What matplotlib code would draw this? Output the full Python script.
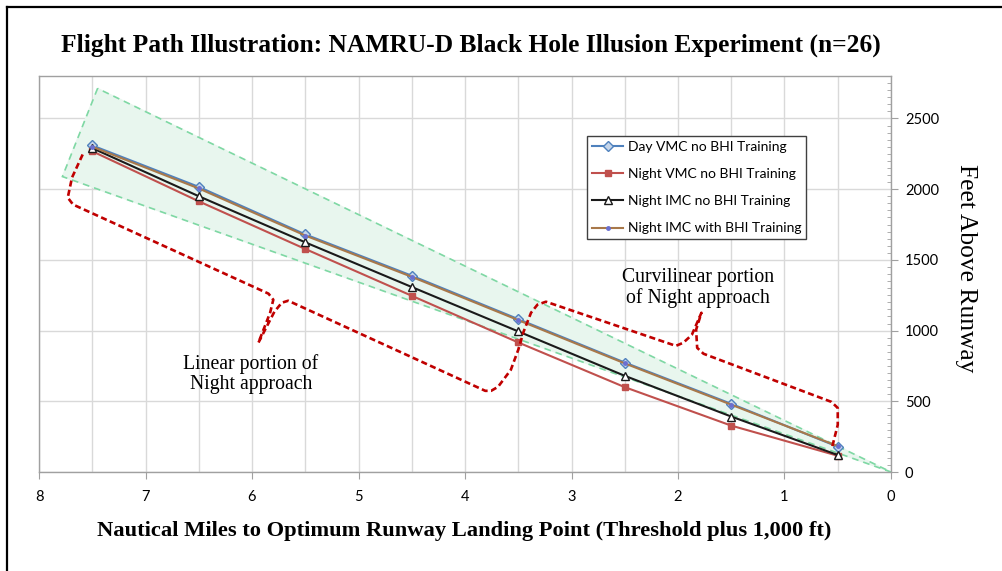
import matplotlib
matplotlib.use("Agg")
import matplotlib.pyplot as plt
from matplotlib.lines import Line2D
from matplotlib.ticker import MultipleLocator

# data (nautical miles, feet above runway)
nm = [7.5, 6.5, 5.5, 4.5, 3.5, 2.5, 1.5, 0.5]
day_vmc = [2309, 2016, 1680, 1388, 1081, 774, 482, 179]
night_vmc = [2268, 1914, 1577, 1246, 916, 600, 328, 115]
night_imc = [2290, 1950, 1624, 1308, 994, 680, 392, 120]
night_imc_bhi = [2300, 2005, 1672, 1380, 1074, 768, 476, 183]

x_ticks = [8, 7, 6, 5, 4, 3, 2, 1, 0]
y_ticks = [0, 500, 1000, 1500, 2000, 2500]

# green dashed band drawn on the chart
band_x = [7.45, 7.78, 0.0]
band_y = [2712, 2089, 0]

# red dashed brackets (one continuous path)
brace_x = [7.59, 7.69, 7.73, 7.68, 5.845, 5.80, 5.83, 5.94, 5.79, 5.72, 5.66,
           3.81, 3.755, 3.69, 3.57, 3.50, 3.45, 3.38, 3.32, 3.24,
           2.02, 1.95, 1.87, 1.78, 1.83, 1.82, 1.76, 0.56, 0.50, 0.50, 0.555]
brace_y = [2245, 2082, 1940, 1891, 1261, 1218, 1126, 914, 1133, 1197, 1211,
           574, 574, 602, 722, 864, 992, 1126, 1183, 1204,
           892, 914, 970, 1126, 1006, 878, 836, 496, 453, 333, 170]

serif = "Liberation Serif"
sans = "Lato"

fig = plt.figure(figsize=(10.03, 5.71), dpi=100)
ax = fig.add_axes([39/1003, 1-472/571, (891-39)/1003, (472-76)/571])

ax.fill(band_x, band_y, color="#E8F6EE", zorder=1)
ax.fill(band_x, band_y, facecolor="none", edgecolor="#7FD8A4", lw=1.2,
        linestyle=(0, (4, 3)), zorder=2)

ax.plot(nm, day_vmc, color="#4F81BD", lw=1.5, marker="D", ms=5.5,
        mfc="#C5D5EA", mec="#4F81BD", mew=1.0, label="Day VMC no BHI Training", zorder=4)
ax.plot(nm, night_vmc, color="#C0504D", lw=1.5, marker="s", ms=5,
        mfc="#C0504D", mec="#C0504D", label="Night VMC no BHI Training", zorder=4)
ax.plot(nm, night_imc, color="#1A1A1A", lw=1.5, marker="^", ms=6,
        mfc="white", mec="#1A1A1A", mew=1.0, label="Night IMC no BHI Training", zorder=5)
ax.plot(nm, night_imc_bhi, color="#A8784A", lw=1.5, marker="o", ms=2.5,
        mfc="#6A6FD0", mec="#6A6FD0", label="Night IMC with BHI Training", zorder=5)

ax.plot(brace_x, brace_y, color="#C00000", lw=1.9, linestyle=(0, (2.3, 1.3)),
        zorder=6)

ax.text(6.01, 694, "Linear portion of\nNight approach", ha="center", va="center",
        fontsize=14.2, family=serif, linespacing=1.05, zorder=7)
ax.text(1.81, 1303, "Curvilinear portion\nof Night approach", ha="center", va="center",
        fontsize=14.2, family=serif, linespacing=1.05, zorder=7)

ax.set_xlim(8, 0)
ax.set_ylim(0, 2800)
ax.set_xticks(x_ticks)
ax.set_yticks(y_ticks)
ax.xaxis.set_minor_locator(MultipleLocator(0.5))
ax.yaxis.set_minor_locator(MultipleLocator(50))
ax.yaxis.tick_right()
ax.tick_params(axis="x", which="major", direction="out", length=5, color="#A0A0A0",
               labelsize=10.5, pad=8)
ax.tick_params(axis="x", which="minor", length=0)
ax.tick_params(axis="y", which="major", direction="out", length=5, color="#A0A0A0",
               labelsize=10.5, pad=5)
ax.tick_params(axis="y", which="minor", direction="in", length=3, color="#A0A0A0")
for lab in ax.get_xticklabels() + ax.get_yticklabels():
    lab.set_family(sans)

ax.grid(True, axis="x", which="both", color="#D9D9D9", lw=1)
ax.grid(True, axis="y", which="major", color="#D9D9D9", lw=1)
ax.set_axisbelow(True)
for s in ax.spines.values():
    s.set_color("#A0A0A0")
    s.set_linewidth(1)

leg = ax.legend(loc="upper center", bbox_to_anchor=(0.772, 0.849), fancybox=False,
                edgecolor="#404040", framealpha=1, prop={"family": sans, "size": 10},
                labelspacing=1.1, handlelength=2.2, borderpad=0.35, handletextpad=0.35,
                borderaxespad=0)
leg.get_frame().set_linewidth(1)
leg.set_zorder(10)

fig.text(471/1003, 1-45/571,
         "Flight Path Illustration: NAMRU-D Black Hole Illusion Experiment (n=26)",
         ha="center", va="center", fontsize=18.4, fontweight="bold", family=serif)
fig.text(464/1003, 1-531/571,
         "Nautical Miles to Optimum Runway Landing Point (Threshold plus 1,000 ft)",
         ha="center", va="center", fontsize=16.2, fontweight="bold", family=serif)
fig.text(966/1003, 1-268/571, "Feet Above Runway", ha="center", va="center",
         rotation=-90, fontsize=18.4, family=serif)

# outer frame (left and top edges only, as in the cropped original)
fig.add_artist(Line2D([7/1003, 7/1003], [0, 1-7/571], color="black", lw=1.6))
fig.add_artist(Line2D([7/1003, 1], [1-7/571, 1-7/571], color="black", lw=1.6))

fig.savefig("out.png", dpi=100)
